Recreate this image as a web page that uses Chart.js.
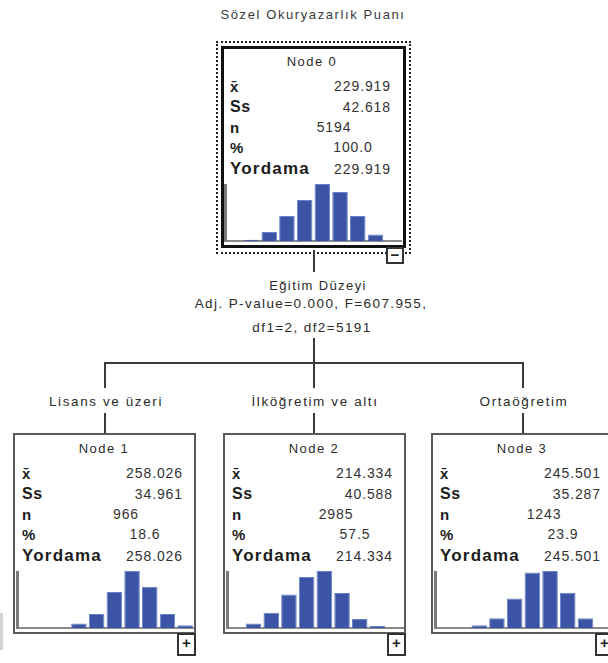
<!DOCTYPE html>
<html>
<head>
<meta charset="utf-8">
<script src="https://cdn.jsdelivr.net/npm/chart.js@4.4.1/dist/chart.umd.min.js"></script>
<style>
body { margin: 0; background: #fff; }
#tree { position: relative; width: 608px; height: 663px; overflow: hidden; font-family: Arial, "Liberation Sans", sans-serif; color: #2b2b2b; }
.txt { position: absolute; white-space: nowrap; font-size: 13px; letter-spacing: 1.4px; }
.c { transform: translate(-50%, -50%); }
.l { transform: translate(0, -50%); }
.r { transform: translate(-100%, -50%); }
.line { position: absolute; background: #3a3a3a; }
.node { position: absolute; box-sizing: border-box; width: 183px; height: 201px; border: 2px solid #5a5a5a; background: #fff; }
.node .lab { font-weight: bold; font-size: 15px; color: #1c1c1c; letter-spacing: 0.5px; }
.node .big { font-size: 17px; letter-spacing: 1.2px; }
.node .val { font-size: 14px; letter-spacing: 0.9px; color: #333; }
.node canvas { position: absolute; }
.toggle { position: absolute; box-sizing: border-box; width: 19px; height: 20px; border: 2px solid #333; background: #fff; font: bold 15px Arial, sans-serif; line-height: 15px; text-align: center; color: #222; }
</style>
</head>
<body>
<div id="tree"></div>
<script>
// node statistics
const nodeTitles = ['Node 0', 'Node 1', 'Node 2', 'Node 3'];
const means = [229.919, 258.026, 214.334, 245.501];
const stdDevs = [42.618, 34.961, 40.588, 35.287];
const counts = [5194, 966, 2985, 1243];
const percents = [100.0, 18.6, 57.5, 23.9];
const predicted = [229.919, 258.026, 214.334, 245.501];

// score histograms, shared bins, share of node (%)
const binLabels = ['b0', 'b1', 'b2', 'b3', 'b4', 'b5', 'b6', 'b7', 'b8', 'b9'];
const hist0 = [0, 0.6, 4.2, 11.7, 19.2, 26.7, 23.0, 11.7, 3.0, 0];
const hist1 = [0, 0, 0, 2.7, 8.2, 21.2, 33.6, 24.3, 8.2, 1.6];
const hist2 = [0, 2.2, 7.3, 16.2, 24.6, 27.5, 16.9, 4.4, 1.0, 0];
const hist3 = [0, 0, 1.4, 4.9, 14.8, 27.8, 28.6, 17.7, 4.9, 0];

const targetName = 'Sözel Okuryazarlık Puanı';
const splitName = 'Eğitim Düzeyi';
const splitStats = ['Adj. P-value=0.000, F=607.955,', 'df1=2, df2=5191'];
const branchLabels = ['Lisans ve üzeri', 'İlköğretim ve altı', 'Ortaöğretim'];

const tree = document.getElementById('tree');

function el(cls, parent, css, text) {
    const d = document.createElement('div');
    d.className = cls;
    Object.assign(d.style, css);
    if (text !== undefined) d.textContent = text;
    parent.appendChild(d);
    return d;
}

function text(parent, cls, x, y, str, extra) {
    return el('txt ' + cls, parent, Object.assign({ left: x + 'px', top: y + 'px' }, extra || {}), str);
}

function line(x, y, w, h) {
    el('line', tree, { left: x + 'px', top: y + 'px', width: w + 'px', height: h + 'px' });
}

function drawHistogram(canvas, values) {
    new Chart(canvas, {
        type: 'bar',
        data: {
            labels: binLabels,
            datasets: [{
                data: values,
                backgroundColor: '#3c54a5',
                borderColor: '#6a82c6',
                borderWidth: 1,
                barPercentage: 0.88,
                categoryPercentage: 1
            }]
        },
        options: {
            responsive: false,
            animation: false,
            events: [],
            layout: { padding: { left: 2, bottom: 1 } },
            plugins: { legend: { display: false }, tooltip: { enabled: false } },
            scales: {
                x: {
                    ticks: { display: false },
                    grid: { display: false, drawTicks: false },
                    border: { color: '#8a8a8a', width: 2 }
                },
                y: {
                    min: 0,
                    max: Math.max(...values),
                    ticks: { display: false },
                    grid: { display: false, drawTicks: false },
                    border: { color: '#7a7a7a', width: 3 }
                }
            }
        }
    });
}

function buildNode(i, left, top, border, hist) {
    const box = el('node', tree, { left: left + 'px', top: top + 'px', borderWidth: border + 'px' });
    if (i === 0) { box.style.width = '185px'; box.style.height = '202px'; box.style.borderColor = '#111'; }
    const o = border;
    text(box, 'c', 91 - o, 15 - o, nodeTitles[i]);
    const rows = [40, 61, 81, 101, 123];
    text(box, 'l lab', 9 - o, rows[0] - o, 'x\u0304');
    text(box, 'l lab', 9 - o, rows[1] - o, 'Ss', { fontSize: '16px' });
    text(box, 'l lab', 9 - o, rows[2] - o, 'n');
    text(box, 'l lab', 9 - o, rows[3] - o, '%');
    text(box, 'l lab big', 9 - o, rows[4] - o, 'Yordama');
    text(box, 'r val', 170 - o, rows[0] - o, means[i].toFixed(3));
    text(box, 'r val', 170 - o, rows[1] - o, stdDevs[i].toFixed(3));
    text(box, 'c val', 113 - o, rows[2] - o, String(counts[i]));
    text(box, 'c val', 132 - o, rows[3] - o, percents[i].toFixed(1));
    text(box, 'r val', 170 - o, rows[4] - o, predicted[i].toFixed(3));

    const cv = document.createElement('canvas');
    cv.width = 179;
    cv.height = 58;
    cv.style.left = (2 - o) + 'px';
    cv.style.top = (138 - o) + 'px';
    box.appendChild(cv);
    drawHistogram(cv, hist);
    return box;
}

// title
text(tree, 'c', 313, 14, targetName, { letterSpacing: '1.6px', color: '#3a3a3a' });

// root node with selection frame
el('', tree, { position: 'absolute', left: '216px', top: '41px', width: '191px', height: '209px', border: '2px dotted #222' });
buildNode(0, 221, 46, 3, hist0);
el('toggle', tree, { left: '386px', top: '247px', width: '18px', height: '17px', lineHeight: '12px' }, '\u2212');

// split description
line(313, 250, 2, 22);
text(tree, 'c', 318, 285, splitName);
text(tree, 'c', 311, 303, splitStats[0], { fontSize: '13.5px' });
text(tree, 'c', 312, 327, splitStats[1], { fontSize: '13.5px' });
line(313, 338, 2, 50);
line(104, 362, 420, 2);

// children
const childLeft = [13, 223, 431];
const childCenter = [104, 313, 522];
const hists = [hist1, hist2, hist3];
for (let k = 0; k < 3; k++) {
    const cx = childCenter[k];
    line(cx, 362, 2, 26);
    text(tree, 'c', cx + 2, 401, branchLabels[k], { fontSize: '13.5px', letterSpacing: '1.6px' });
    line(cx, 413, 2, 21);
    buildNode(k + 1, childLeft[k], 433, 2, hists[k]);
    el('toggle', tree, { left: (childLeft[k] + 164) + 'px', top: '633px', height: '23px' }, '+');
}

// scrollbar remnant on the left edge
el('', tree, { position: 'absolute', left: '0px', top: '613px', width: '3px', height: '37px', background: '#d4d4d4' });
</script>
</body>
</html>
